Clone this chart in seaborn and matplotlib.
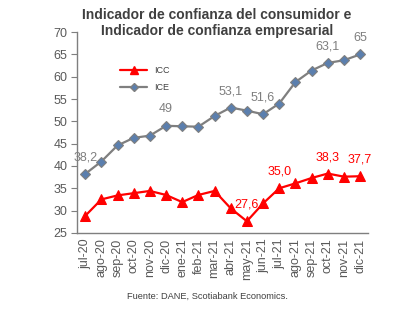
import numpy as np
import pandas as pd
import matplotlib
matplotlib.use("Agg")
import matplotlib.pyplot as plt
import seaborn as sns
from matplotlib.lines import Line2D

months = ["jul-20", "ago-20", "sep-20", "oct-20", "nov-20", "dic-20", "ene-21", "feb-21",
          "mar-21", "abr-21", "may-21", "jun-21", "jul-21", "ago-21", "sep-21", "oct-21",
          "nov-21", "dic-21"]
icc = [28.8, 32.5, 33.4, 33.9, 34.4, 33.5, 31.9, 33.5, 34.4, 30.5, 27.6, 31.6, 35.0, 36.1,
       37.3, 38.3, 37.6, 37.7]
ice = [38.2, 41.0, 44.6, 46.3, 46.8, 49.0, 48.9, 48.8, 51.2, 53.1, 52.4, 51.6, 54.0, 58.8,
       61.4, 63.1, 63.7, 65.0]
icc_labels = {"may-21": "27,6", "jul-21": "35,0", "oct-21": "38,3", "dic-21": "37,7"}
ice_labels = {"jul-20": "38,2", "dic-20": "49", "abr-21": "53,1", "jun-21": "51,6",
              "oct-21": "63,1", "dic-21": "65"}
yticks = [25, 30, 35, 40, 45, 50, 55, 60, 65, 70]

sns.set_style("white")
plt.rcParams["font.family"] = ["Liberation Sans", "DejaVu Sans"]

df = pd.DataFrame({"pos": np.arange(len(months)), "ICC": icc, "ICE": ice})

fig = plt.figure(figsize=(4.1, 3.28), dpi=100)
ax = fig.add_axes([0.188, 0.29, 0.71, 0.612])

red = "#ff0000"
gray = "#7f7f7f"
blue = "#5b7fae"

sns.lineplot(data=df, x="pos", y="ICE", ax=ax, color=gray, lw=1.6, marker="D",
             markersize=5.5, markerfacecolor=blue, markeredgecolor=gray, markeredgewidth=0.8)
sns.lineplot(data=df, x="pos", y="ICC", ax=ax, color=red, lw=1.6, marker="^",
             markersize=7.5, markerfacecolor=red, markeredgecolor=red)

for m, t in ice_labels.items():
    i = months.index(m)
    ax.annotate(t, (i, ice[i]), xytext=(0, 7.5), textcoords="offset points",
                ha="center", va="bottom", fontsize=9, color=gray)
for m, t in icc_labels.items():
    i = months.index(m)
    ax.annotate(t, (i, icc[i]), xytext=(0, 7.5), textcoords="offset points",
                ha="center", va="bottom", fontsize=9, color=red)

ax.set_xlim(-0.5, len(months) - 0.5)
ax.set_ylim(25, 70)
ax.set_yticks(yticks)
ax.set_yticklabels([str(v) for v in yticks])
ax.set_xticks(np.arange(len(months)))
ax.set_xticklabels(months, rotation=90)
ax.set_xticks(np.arange(len(months) + 1) - 0.5, minor=True)
ax.tick_params(axis="x", which="major", length=0, pad=4, labelsize=9, labelcolor="#595959")
ax.tick_params(axis="x", which="minor", length=4, width=0.8, color=gray, direction="out")
ax.tick_params(axis="y", which="major", length=4, width=0.8, color=gray, direction="out",
               labelsize=9, labelcolor="#595959", left=True, pad=3)
ax.set_xlabel("")
ax.set_ylabel("")
for s in ["top", "right"]:
    ax.spines[s].set_visible(False)
for s in ["left", "bottom"]:
    ax.spines[s].set_color(gray)
    ax.spines[s].set_linewidth(1.0)

handles = [Line2D([], [], color=red, lw=1.6, marker="^", markersize=6, markerfacecolor=red,
                  markeredgecolor=red),
           Line2D([], [], color=gray, lw=1.6, marker="D", markersize=4.5, markerfacecolor=blue,
                  markeredgecolor=gray)]
ax.legend(handles, ["ICC", "ICE"], loc="upper left", bbox_to_anchor=(0.12, 0.87),
          frameon=False, fontsize=6.5, handlelength=3.0, labelspacing=0.9, labelcolor="#404040")

fig.text(0.529, 0.975, "Indicador de confianza del consumidor e\nIndicador de confianza empresarial",
         ha="center", va="top", fontsize=10, fontweight="bold", color="#404040", linespacing=1.15)
fig.text(0.505, 0.097, "Fuente: DANE, Scotiabank Economics.", ha="center", va="center",
         fontsize=6.7, color="#404040")

fig.savefig("out.png", dpi=100)
